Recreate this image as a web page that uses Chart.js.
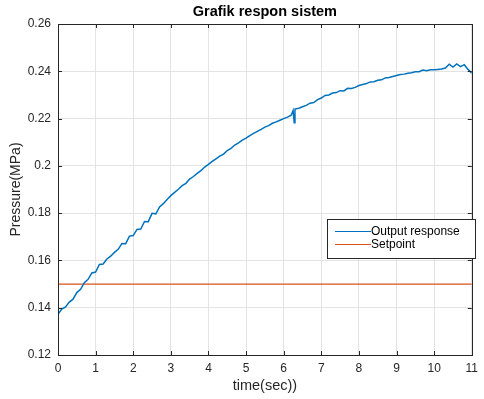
<!DOCTYPE html>
<html>
<head>
<meta charset="utf-8">
<script src="https://cdn.jsdelivr.net/npm/chart.js@4/dist/chart.umd.min.js"></script>
<style>
html,body{margin:0;padding:0;background:#fff;}
#wrap{width:484px;height:399px;}
</style>
</head>
<body>
<div id="wrap"><canvas id="c" width="484" height="399"></canvas></div>
<script>
const chartTitle = "Grafik respon sistem";
const xTitle = "time(sec))";
const yTitle = "Pressure(MPa)";
const seriesNames = ["Output response", "Setpoint"];
const xTicks = [0,1,2,3,4,5,6,7,8,9,10,11];
const yTicks = [0.12,0.14,0.16,0.18,0.2,0.22,0.24,0.26];

const time = [
 0.0,0.1,0.2,0.3,0.4,0.5,0.6,0.7,0.8,0.9,
 1.0,1.1,1.2,1.3,1.4,1.5,1.6,1.7,1.8,1.9,
 2.0,2.1,2.2,2.3,2.4,2.5,2.6,2.7,2.8,2.9,
 3.0,3.1,3.2,3.3,3.4,3.5,3.6,3.7,3.8,3.9,
 4.0,4.1,4.2,4.3,4.4,4.5,4.6,4.7,4.8,4.9,
 5.0,5.1,5.2,5.3,5.4,5.5,5.6,5.7,5.8,5.9,
 6.0,6.1,6.2,6.25,6.28,6.3,6.4,6.5,6.6,6.7,6.8,6.9,
 7.0,7.1,7.2,7.3,7.4,7.5,7.6,7.7,7.8,7.9,
 8.0,8.1,8.2,8.3,8.4,8.5,8.6,8.7,8.8,8.9,
 9.0,9.1,9.2,9.3,9.4,9.5,9.6,9.7,9.8,9.9,
 10.0,10.1,10.2,10.3,10.4,10.5,10.6,10.7,10.8,10.9,11.0
];
const pressure = [
 0.1372,0.1394,0.1403,0.1424,0.1436,0.1464,0.1478,0.1506,0.1520,0.1547,
 0.1551,0.1583,0.1585,0.1606,0.1618,0.1634,0.1647,0.1672,0.1671,0.1703,
 0.1705,0.1731,0.1733,0.1765,0.1764,0.1799,0.1797,0.1826,0.1840,0.1858,
 0.1874,0.1888,0.1901,0.1916,0.1926,0.1944,0.1955,0.1968,0.1980,0.1995,
 0.2006,0.2019,0.2030,0.2041,0.2050,0.2065,0.2074,0.2088,0.2097,0.2109,
 0.2117,0.2128,0.2137,0.2146,0.2154,0.2164,0.2170,0.2180,0.2186,0.2193,
 0.2200,0.2206,0.2214,0.2234,0.2182,0.2240,0.2244,0.2250,0.2256,0.2265,0.2268,0.2280,
 0.2287,0.2298,0.2300,0.2308,0.2310,0.2318,0.2317,0.2328,0.2327,0.2332,
 0.2340,0.2344,0.2348,0.2355,0.2356,0.2362,0.2364,0.2372,0.2374,0.2378,
 0.2382,0.2386,0.2388,0.2392,0.2394,0.2398,0.2398,0.2405,0.2402,0.2406,
 0.2406,0.2408,0.2410,0.2414,0.2430,0.2418,0.2431,0.2420,0.2428,0.2408,0.2392
];
const setpointTime = [0, 11];
const setpointValue = [0.15, 0.15];

const BLUE = '#0072BD';
const ORANGE = '#D95319';
const AXC = '#262626';
const FONT = "'Liberation Sans', Arial, Helvetica, sans-serif";

const boxPlugin = {
  id: 'boxPlugin',
  afterDatasetsDraw(chart) {
    const {ctx, chartArea: a, scales} = chart;
    ctx.save();
    ctx.strokeStyle = AXC;
    ctx.lineWidth = 1;
    ctx.beginPath();
    xTicks.forEach(v => {
      const px = Math.round(scales.x.getPixelForValue(v)) + 0.5;
      ctx.moveTo(px, a.bottom); ctx.lineTo(px, a.bottom - 4);
      ctx.moveTo(px, a.top); ctx.lineTo(px, a.top + 4);
    });
    yTicks.forEach(v => {
      const py = Math.round(scales.y.getPixelForValue(v)) + 0.5;
      ctx.moveTo(a.left, py); ctx.lineTo(a.left + 4, py);
      ctx.moveTo(a.right, py); ctx.lineTo(a.right - 4, py);
    });
    ctx.stroke();
    ctx.strokeRect(Math.round(a.left)+0.5, Math.round(a.top)+0.5,
                   Math.round(a.right - a.left), Math.round(a.bottom - a.top));
    // legend
    const lx = 327.5, ly = 219.5, lw = 148, lh = 39;
    ctx.fillStyle = '#fff';
    ctx.fillRect(lx, ly, lw, lh);
    ctx.strokeStyle = AXC;
    ctx.strokeRect(lx, ly, lw, lh);
    const ds = chart.data.datasets;
    ctx.font = "12px " + FONT;
    ctx.textBaseline = 'middle';
    ctx.textAlign = 'left';
    ds.forEach((d, i) => {
      const y = 231 + i * 13;
      ctx.strokeStyle = d.borderColor;
      ctx.lineWidth = 1;
      ctx.beginPath();
      ctx.moveTo(335, y + 0.5); ctx.lineTo(371, y + 0.5);
      ctx.stroke();
      ctx.fillStyle = '#000';
      ctx.fillText(d.label, 371, y + 1);
    });
    ctx.restore();
  }
};

new Chart(document.getElementById('c'), {
  type: 'line',
  data: {
    datasets: [
      {
        label: seriesNames[0],
        data: time.map((t, i) => ({x: t, y: pressure[i]})),
        borderColor: BLUE, borderWidth: 1.5, pointRadius: 0, tension: 0, fill: false
      },
      {
        label: seriesNames[1],
        data: setpointTime.map((t, i) => ({x: t, y: setpointValue[i]})),
        borderColor: ORANGE, borderWidth: 1.2, pointRadius: 0, tension: 0, fill: false
      }
    ]
  },
  options: {
    responsive: false,
    animation: false,
    devicePixelRatio: 1,
    layout: {padding: {top: 0, right: 8, bottom: 0, left: 0}},
    plugins: {
      legend: {display: false},
      tooltip: {enabled: false},
      title: {
        display: true, text: chartTitle, fullSize: false,
        color: '#000', font: {family: FONT, size: 14.5, weight: 'bold', lineHeight: 1.1},
        padding: {top: 4, bottom: 4.05}
      }
    },
    scales: {
      x: {
        type: 'linear', min: 0, max: 11,
        afterFit(s) { s.height = 44; },
        afterBuildTicks(s) { s.ticks = xTicks.map(v => ({value: v})); },
        ticks: {color: AXC, font: {family: FONT, size: 12}, padding: 6, maxRotation: 0,
                callback: v => String(v)},
        grid: {color: '#e3e3e3', drawTicks: false, lineWidth: 1},
        border: {display: false},
        title: {display: true, text: xTitle, color: AXC, font: {family: FONT, size: 14.5},
                padding: {top: 0, bottom: 4.3}}
      },
      y: {
        type: 'linear', min: 0.12, max: 0.26,
        afterFit(s) { s.width = 58; },
        afterBuildTicks(s) { s.ticks = yTicks.map(v => ({value: v})); },
        ticks: {color: AXC, font: {family: FONT, size: 12}, padding: 7,
                callback: v => String(Math.round(v * 100) / 100)},
        grid: {color: '#e3e3e3', drawTicks: false, lineWidth: 1},
        border: {display: false},
        title: {display: true, text: yTitle, color: AXC, font: {family: FONT, size: 14},
                padding: {top: 7.6, bottom: 0}}
      }
    }
  },
  plugins: [boxPlugin]
});
</script>
</body>
</html>
